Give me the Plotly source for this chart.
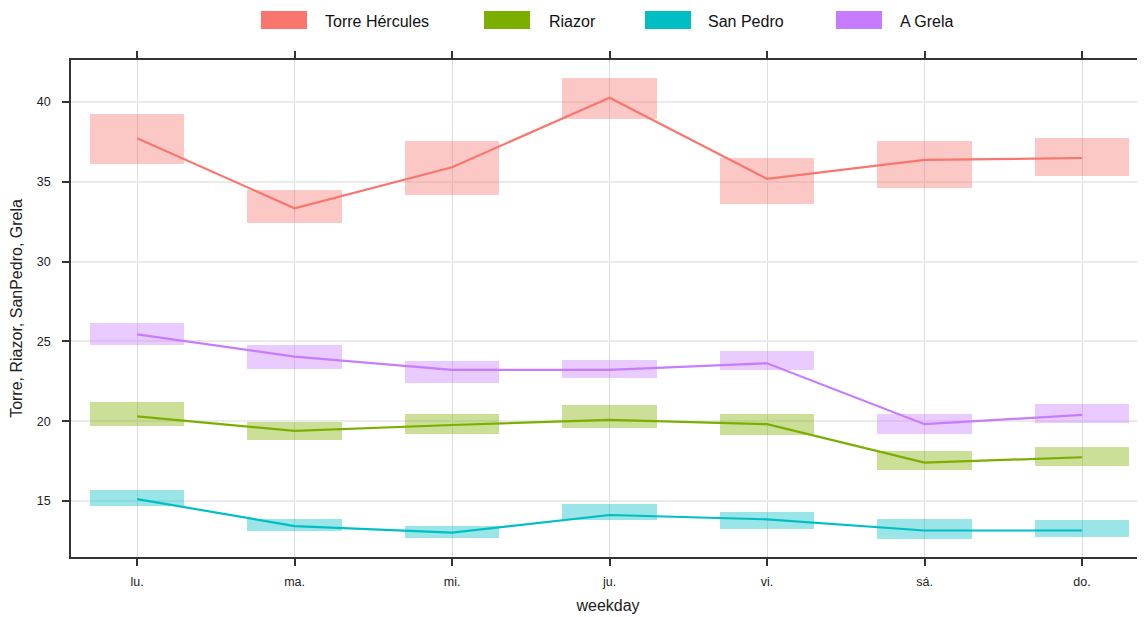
import plotly.graph_objects as go

# ---- data ----
days = ["lu.", "ma.", "mi.", "ju.", "vi.", "sá.", "do."]
series_names = ["Torre Hércules", "Riazor", "San Pedro", "A Grela"]

torre_mean = [37.73, 33.34, 35.91, 40.27, 35.18, 36.37, 36.49]
torre_lower = [36.10, 32.44, 34.17, 38.95, 33.61, 34.59, 35.34]
torre_upper = [39.23, 34.51, 37.56, 41.52, 36.47, 37.56, 37.73]

riazor_mean = [20.30, 19.39, 19.76, 20.08, 19.81, 17.40, 17.74]
riazor_lower = [19.72, 18.82, 19.22, 19.55, 19.14, 16.92, 17.17]
riazor_upper = [21.18, 19.97, 20.43, 21.00, 20.43, 18.13, 18.38]

sanpedro_mean = [15.12, 13.43, 13.02, 14.12, 13.85, 13.15, 13.15]
sanpedro_lower = [14.70, 13.10, 12.67, 13.79, 13.26, 12.59, 12.76]
sanpedro_upper = [15.66, 13.89, 13.45, 14.81, 14.32, 13.89, 13.80]

grela_mean = [25.44, 24.04, 23.21, 23.21, 23.63, 19.81, 20.39]
grela_lower = [24.77, 23.27, 22.37, 22.71, 23.21, 19.22, 19.90]
grela_upper = [26.13, 24.75, 23.75, 23.83, 24.40, 20.43, 21.10]

y_ticks = [15, 20, 25, 30, 35, 40]

colors = ["#F8766D", "#7CAE00", "#00BFC4", "#C77CFF"]
fills = ["rgba(248,118,109,0.4)", "rgba(124,174,0,0.4)",
         "rgba(0,191,196,0.4)", "rgba(199,124,255,0.4)"]

means = [torre_mean, riazor_mean, sanpedro_mean, grela_mean]
lowers = [torre_lower, riazor_lower, sanpedro_lower, grela_lower]
uppers = [torre_upper, riazor_upper, sanpedro_upper, grela_upper]

x_pos = list(range(len(days)))

W, H = 1137, 609
L, R, T, B = 63, 0, 52, 60
FONT = "Liberation Sans"

# plot area in window pixels (page has an 8px body margin)
PX0, PX1, PY0, PY1 = 71, 1145, 60, 557

fig = go.Figure()

for i in range(4):
    fig.add_trace(go.Bar(
        x=x_pos,
        y=[u - l for u, l in zip(uppers[i], lowers[i])],
        base=lowers[i],
        width=0.6,
        marker=dict(color=fills[i], line=dict(width=0)),
        showlegend=False, hoverinfo="skip", name=series_names[i]))

for i in range(4):
    fig.add_trace(go.Scatter(
        x=x_pos, y=means[i], mode="lines",
        line=dict(color=colors[i], width=2.2),
        showlegend=False, name=series_names[i]))


def px_x(p):
    return (p - PX0) / (PX1 - PX0)


def px_y(p):
    return (PY1 - p) / (PY1 - PY0)


leg_rect_x = [261, 484, 645, 836]
leg_text_x = [325, 549, 708, 900]
shapes = []
annotations = []
for i in range(4):
    shapes.append(dict(type="rect", xref="paper", yref="paper",
                       x0=px_x(leg_rect_x[i]), x1=px_x(leg_rect_x[i] + 46),
                       y0=px_y(29), y1=px_y(11),
                       fillcolor=colors[i], line=dict(width=0)))
    annotations.append(dict(text=series_names[i], xref="paper", yref="paper",
                            x=px_x(leg_text_x[i] - 2), y=px_y(21),
                            xanchor="left", yanchor="middle", showarrow=False,
                            font=dict(family=FONT, size=16, color="#111111")))

fig.update_layout(
    width=W, height=H,
    margin=dict(l=L, r=R, t=T, b=B),
    paper_bgcolor="white", plot_bgcolor="white",
    barmode="overlay", bargap=0,
    shapes=shapes, annotations=annotations,
    font=dict(family=FONT, color="#222222"),
    showlegend=False,
)

fig.update_xaxes(
    range=[-0.42, 6.40],
    tickvals=x_pos, ticktext=days,
    showline=True, linecolor="#333333", linewidth=1.5,
    mirror="allticks", ticks="outside", ticklen=7, tickcolor="#333333",
    tickwidth=1.5,
    showgrid=True, gridcolor="#dcdcdc", gridwidth=1.3,
    tickfont=dict(size=12.5, family=FONT, color="#222222"),
    ticklabelstandoff=5,
    title=dict(text="weekday", font=dict(size=16, family=FONT, color="#222222"),
               standoff=12),
    zeroline=False,
)

fig.update_yaxes(
    range=[11.49, 42.63],
    tickvals=y_ticks,
    showline=True, linecolor="#333333", linewidth=1.5, mirror=False,
    ticks="outside", ticklen=7, tickcolor="#333333", tickwidth=1.5,
    showgrid=True, gridcolor="#ebebeb", gridwidth=2,
    tickfont=dict(size=12.5, family=FONT, color="#222222"),
    ticklabelstandoff=9,
    title=dict(text="Torre, Riazor, SanPedro, Grela",
               font=dict(size=16, family=FONT, color="#222222"), standoff=12),
    zeroline=False,
)

fig.write_html("out.html")
